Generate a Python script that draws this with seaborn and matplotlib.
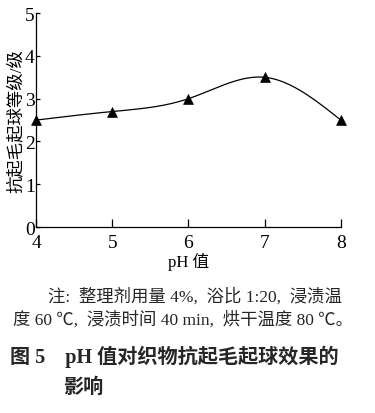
import numpy as np
import matplotlib
matplotlib.use("Agg")
import matplotlib.pyplot as plt
import seaborn as sns

ph_values = [4, 5, 6, 7, 8]
pilling_grade = [2.5, 2.7, 3.0, 3.5, 2.5]
y_ticks = [0, 1, 2, 3, 4, 5]
x_label = "pH 值"
y_label = "抗起毛起球等级/级"
note_lines = ["注:  整理剂用量 4%,  浴比 1:20,  浸渍温", "度 60 ℃,  浸渍时间 40 min,  烘干温度 80 ℃。"]
caption_lines = ["图 5    pH 值对织物抗起毛起球效果的", "影响"]


def natural_spline(x, y, xs):
    x = np.asarray(x, float)
    y = np.asarray(y, float)
    n = len(x)
    h = np.diff(x)
    a = np.zeros((n, n))
    b = np.zeros(n)
    a[0, 0] = a[-1, -1] = 1
    for i in range(1, n - 1):
        a[i, i - 1] = h[i - 1]
        a[i, i] = 2 * (h[i - 1] + h[i])
        a[i, i + 1] = h[i]
        b[i] = 6 * ((y[i + 1] - y[i]) / h[i] - (y[i] - y[i - 1]) / h[i - 1])
    m = np.linalg.solve(a, b)
    idx = np.clip(np.searchsorted(x, xs) - 1, 0, n - 2)
    x0, x1, hi = x[idx], x[idx + 1], h[idx]
    return (m[idx] * (x1 - xs) ** 3 / (6 * hi) + m[idx + 1] * (xs - x0) ** 3 / (6 * hi)
            + (y[idx] / hi - m[idx] * hi / 6) * (x1 - xs)
            + (y[idx + 1] / hi - m[idx + 1] * hi / 6) * (xs - x0))


sns.set_theme(style="ticks")
plt.rcParams["font.family"] = ["Liberation Serif", "Noto Sans CJK SC"]
plt.rcParams["axes.unicode_minus"] = False

fig = plt.figure(figsize=(3.75, 4.14), dpi=100)
ax = fig.add_axes([0.096, 0.449, 0.813, 0.517])

xs = np.linspace(min(ph_values), max(ph_values), 300)
sns.lineplot(x=xs, y=natural_spline(ph_values, pilling_grade, xs), ax=ax,
             color="black", linewidth=0.9, clip_on=False)
sns.scatterplot(x=ph_values, y=pilling_grade, ax=ax, marker="^", s=50,
                color="black", edgecolor="black", linewidth=0.5, clip_on=False, zorder=3)

ax.set_xlim(4, 8)
ax.set_ylim(0, 5)
ax.set_xticks(ph_values)
ax.set_yticks(y_ticks)
ax.tick_params(direction="in", colors="black", labelsize=14, width=0.9, pad=5)
ax.tick_params(axis="x", length=6)
ax.tick_params(axis="y", length=3, pad=1)
sns.despine(ax=ax)
for side in ["left", "bottom"]:
    ax.spines[side].set_color("black")
    ax.spines[side].set_linewidth(0.9)
ax.set_xlabel(x_label, fontsize=12, labelpad=1, color="black")
ax.set_ylabel(y_label, fontsize=12.5, labelpad=0, color="black")

fig.text(0.128, 0.283, note_lines[0], fontsize=12.5, va="center", ha="left")
fig.text(0.035, 0.227, note_lines[1], fontsize=12.5, va="center", ha="left")
fig.text(0.027, 0.137, caption_lines[0], fontsize=14.5, fontweight="bold", va="center", ha="left")
fig.text(0.168, 0.063, caption_lines[1], fontsize=14.5, fontweight="bold", va="center", ha="left")

fig.savefig("out.png", dpi=100)
